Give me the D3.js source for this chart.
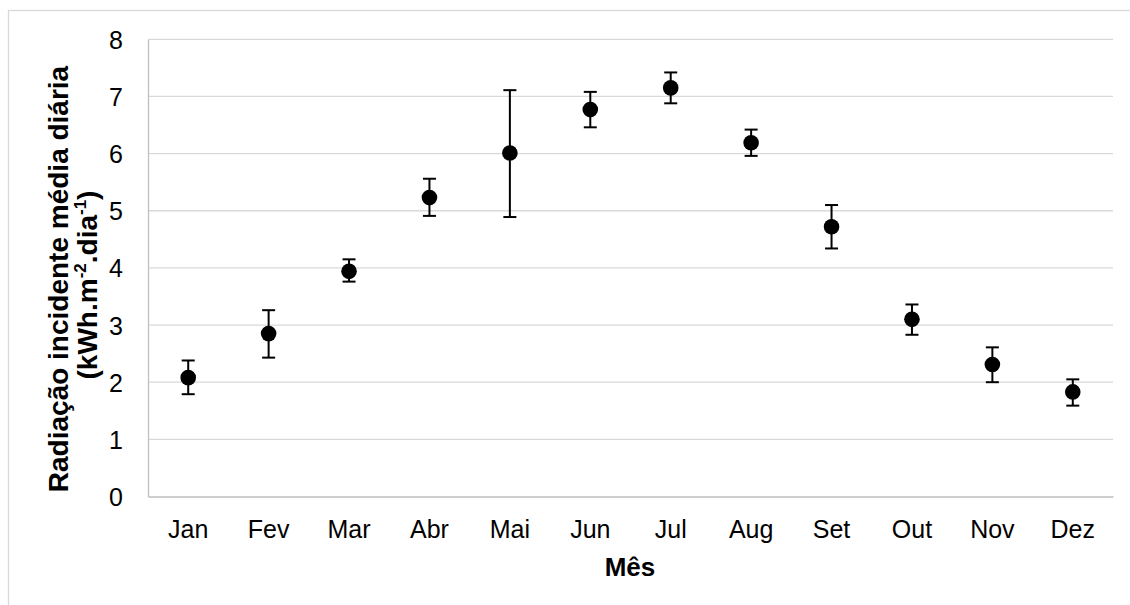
<!DOCTYPE html>
<html>
<head>
<meta charset="utf-8">
<script src="https://cdn.jsdelivr.net/npm/d3@7/dist/d3.min.js"></script>
<style>
  html, body { margin: 0; padding: 0; background: #ffffff; }
  svg { display: block; font-family: "Liberation Sans", Arial, sans-serif; }
</style>
</head>
<body>
<svg id="chart" width="1130" height="605"></svg>
<script>
const months = ["Jan", "Fev", "Mar", "Abr", "Mai", "Jun", "Jul", "Aug", "Set", "Out", "Nov", "Dez"];
const means  = [2.08, 2.85, 3.94, 5.23, 6.01, 6.77, 7.15, 6.19, 4.72, 3.10, 2.31, 1.83];
const upper  = [2.38, 3.26, 4.15, 5.56, 7.11, 7.08, 7.42, 6.42, 5.10, 3.36, 2.61, 2.05];
const lower  = [1.79, 2.43, 3.76, 4.91, 4.89, 6.46, 6.88, 5.96, 4.34, 2.83, 2.00, 1.59];
const yTicks = [0, 1, 2, 3, 4, 5, 6, 7, 8];

const svg = d3.select("#chart");

// outer chart border
svg.append("rect")
  .attr("x", 8.5).attr("y", 10.5)
  .attr("width", 1300).attr("height", 800)
  .attr("fill", "none").attr("stroke", "#d9d9d9").attr("stroke-width", 1.3);

const plotLeft = 148, plotRight = 1113, plotTop = 39.3, plotBottom = 496.5;

const x = d3.scaleBand().domain(months).range([plotLeft, plotRight]);
const y = d3.scaleLinear().domain([0, 8]).range([plotBottom, plotTop]);

// gridlines
svg.append("g")
  .selectAll("line")
  .data(yTicks.filter(d => d > 0))
  .join("line")
  .attr("x1", plotLeft).attr("x2", plotRight)
  .attr("y1", d => y(d)).attr("y2", d => y(d))
  .attr("stroke", "#d9d9d9").attr("stroke-width", 1.3);

// y axis
const yAxis = svg.append("g")
  .attr("transform", `translate(${plotLeft},0)`)
  .call(d3.axisLeft(y).tickValues(yTicks).tickSize(0).tickPadding(25).tickFormat(d3.format("d")));
yAxis.select(".domain").attr("stroke", "#bfbfbf").attr("stroke-width", 1.3);
yAxis.selectAll("text")
  .attr("font-size", 25).attr("fill", "#000")
  .attr("font-family", "Liberation Sans, Arial, sans-serif")
  .attr("dy", "0.36em");

// x axis
const xAxis = svg.append("g")
  .attr("transform", `translate(0,${plotBottom})`)
  .call(d3.axisBottom(x).tickSize(0).tickPadding(24));
xAxis.select(".domain").attr("stroke", "#bfbfbf").attr("stroke-width", 1.3);
xAxis.selectAll("text")
  .attr("font-size", 25).attr("fill", "#000")
  .attr("font-family", "Liberation Sans, Arial, sans-serif")
  .attr("dy", "0.71em");

// error bars
const cx = d => x(d) + x.bandwidth() / 2;
const eb = svg.append("g").attr("stroke", "#000").attr("stroke-width", 2).attr("fill", "none");
months.forEach((m, i) => {
  const g = eb.append("g");
  g.append("line").attr("x1", cx(m)).attr("x2", cx(m)).attr("y1", y(upper[i])).attr("y2", y(lower[i]));
  g.append("line").attr("x1", cx(m) - 6.5).attr("x2", cx(m) + 6.5).attr("y1", y(upper[i])).attr("y2", y(upper[i]));
  g.append("line").attr("x1", cx(m) - 6.5).attr("x2", cx(m) + 6.5).attr("y1", y(lower[i])).attr("y2", y(lower[i]));
});

// markers
svg.append("g")
  .selectAll("circle")
  .data(months)
  .join("circle")
  .attr("cx", d => cx(d))
  .attr("cy", (d, i) => y(means[i]))
  .attr("r", 7.8)
  .attr("fill", "#000");

// x axis title
svg.append("text")
  .attr("x", 630).attr("y", 576)
  .attr("text-anchor", "middle")
  .attr("font-size", 26).attr("font-weight", "bold")
  .text("Mês");

// y axis title
const yt = svg.append("text")
  .attr("transform", "translate(68,279) rotate(-90)")
  .attr("text-anchor", "middle")
  .attr("font-size", 28).attr("font-weight", "bold");
yt.append("tspan").attr("x", 0).attr("y", 0).text("Radiação incidente média diária");

const yt2 = svg.append("text")
  .attr("transform", "translate(97,285) rotate(-90)")
  .attr("text-anchor", "middle")
  .attr("font-size", 28).attr("font-weight", "bold");
yt2.append("tspan").text("(kWh.m");
yt2.append("tspan").attr("font-size", 17).attr("dy", -11).text("-2");
yt2.append("tspan").attr("dy", 11).text(".dia");
yt2.append("tspan").attr("font-size", 17).attr("dy", -11).text("-1");
yt2.append("tspan").attr("dy", 11).text(")");
</script>
</body>
</html>
